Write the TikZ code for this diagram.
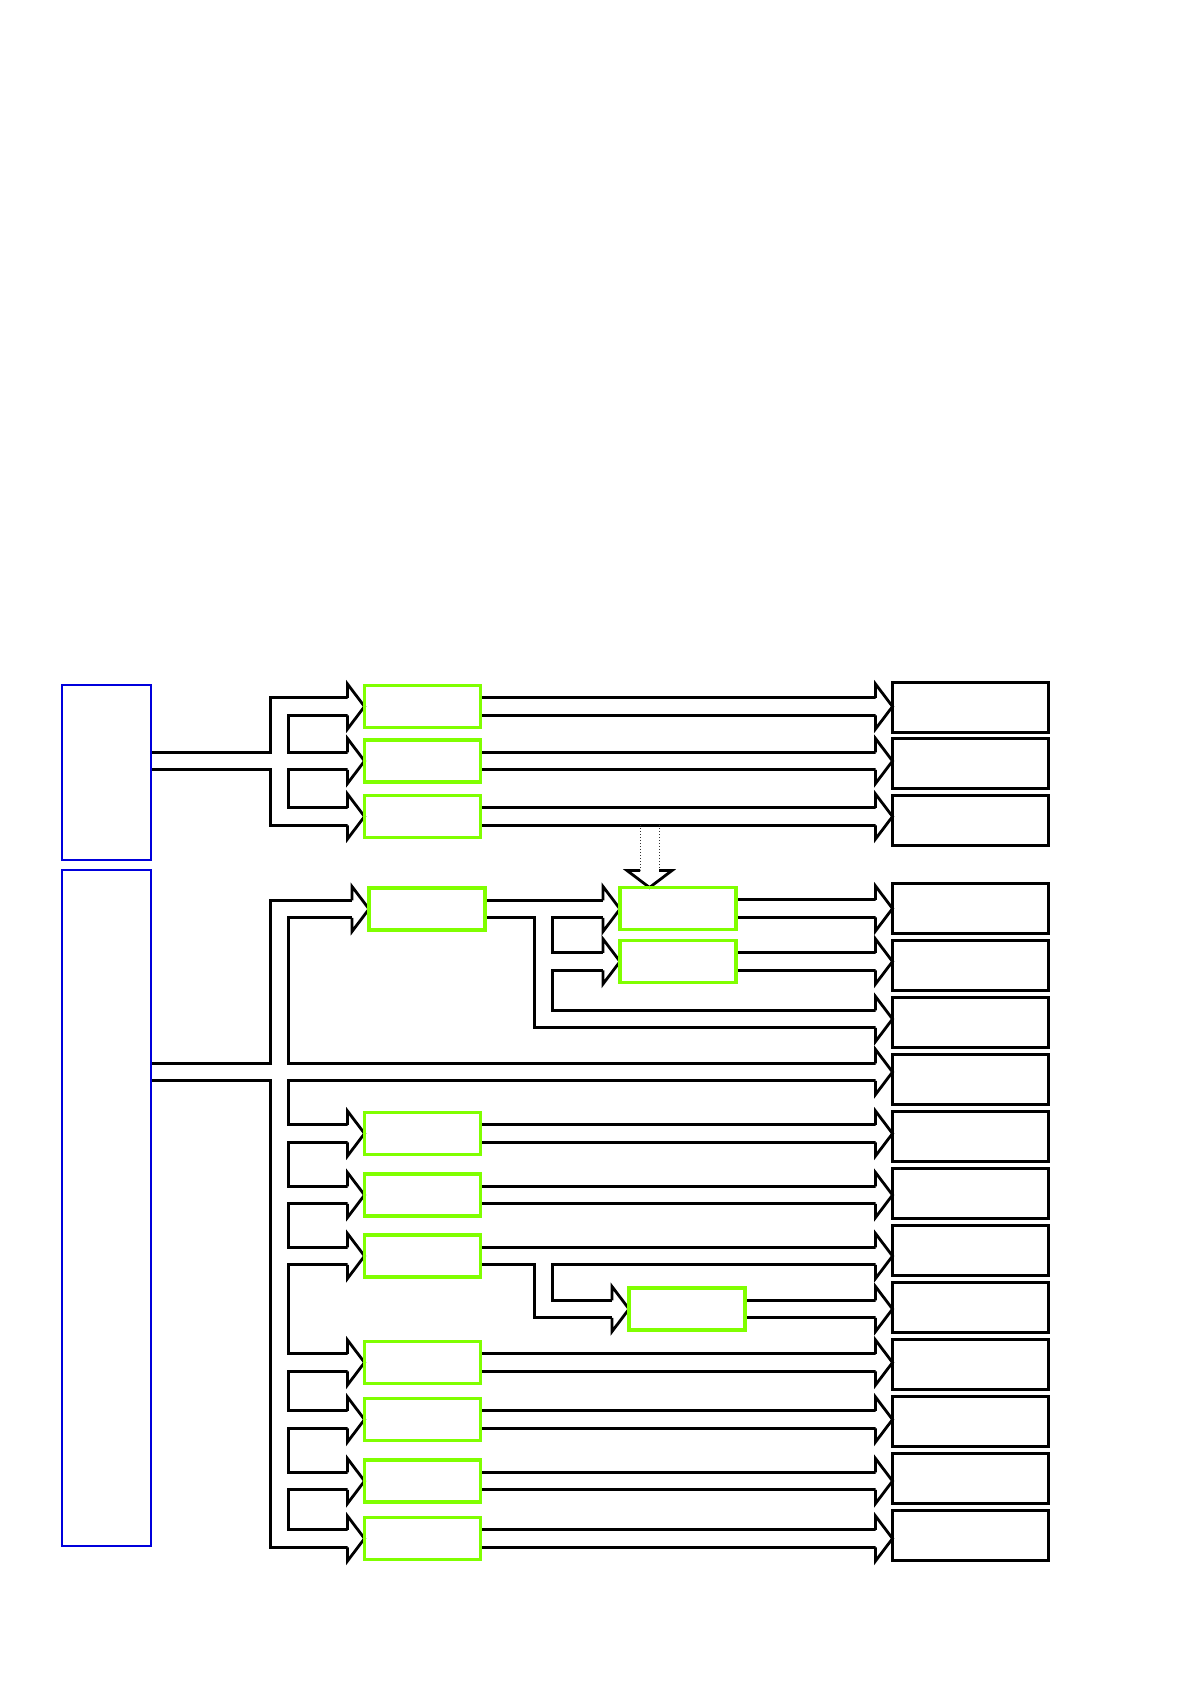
\documentclass[tikz,border=0pt]{standalone}
\usetikzlibrary{backgrounds,calc}
\definecolor{srcblue}{RGB}{0,0,220}
\definecolor{stepgreen}{RGB}{128,255,0}

% open arrow heads of the wide pipes (tip given)
\newcommand{\headR}[1]{\filldraw[bighead] (#1) ++(-17,-8.75) -- ++(0,-13.75) -- (#1) -- ++(-17,22.5) -- ++(0,-13.75);}
\newcommand{\headD}[1]{\filldraw[bighead] (#1) ++(-9.5,-17) -- ++(-13,0) -- (#1) -- ++(22.5,-17) -- ++(-13,0);}

% all wide pipes, drawn once black and once white
\newcommand{\pipenet}[1]{%
  \draw[#1] (b1.east |- busA) -- (busA -| g2.west);
  \draw[#1] (b1.east |- busA) -| (busA |- g1.west) -- (g1.west);
  \draw[#1] (b1.east |- busA) -| (busA |- g3.west) -- (g3.west);
  \draw[#1] (b2.east |- busB) -- (busB -| r7.west);
  \draw[#1] (b2.east |- busB) -| (busB |- g4.west) -- (g4.west);
  \draw[#1] (b2.east |- busB) -| (busB |- g11.west) -- (g11.west);
  \foreach \dst in {g5,g6,g7,g8,g9,g10}
    \draw[#1] (busB |- \dst.west) -- (\dst.west);
  \draw[#1] (g4.east) -| (busC) -- (busC -| r6.west);
  \draw[#1] (busC |- m2.west) -- (m2.west);
  \draw[#1] (g7.east) -| (busD) -- (m3.west);
  \foreach \src/\dst in {g1/r1,g2/r2,g3/r3,g4/m1,m1/r4,m2/r5,g5/r8,g6/r9,g7/r10,m3/r11,g8/r12,g9/r13,g10/r14,g11/r15}
    \draw[#1] (\src.east) -- (\src.east -| \dst.west);
}

\begin{document}
\begin{tikzpicture}[x=0.5pt, y=-0.5pt,
    srcbox/.style={draw=srcblue, line width=1.3pt, minimum width=44.5pt, inner sep=0pt, outer sep=0pt},
    stepbox/.style={draw=stepgreen, line width=1.6pt, minimum width=58pt, minimum height=21pt, inner sep=0pt, outer sep=0pt},
    outbox/.style={draw=black, line width=1.5pt, minimum width=78pt, minimum height=25pt, inner sep=0pt, outer sep=0pt},
    pipe black/.style={draw=black, line width=10.15pt, shorten >=8.5pt},
    pipe white/.style={draw=white, line width=7.35pt, shorten >=8.5pt},
    bighead/.style={fill=white, draw=black, line width=1.4pt},
    feed/.style={draw=black!80, line width=0.5pt, densely dotted}]
\useasboundingbox (0,0) rectangle (1190,1684);

% sources
\node[srcbox, minimum height=87.5pt] (b1) at (106.5,772.5) {};
\node[srcbox, minimum height=338pt] (b2) at (106.5,1208) {};

% steps
\foreach \n/\y in {g1/706.5,g2/761,g3/816.5,g5/1133.5,g6/1195,g7/1256,g8/1362.5,g9/1419.5,g10/1481,g11/1538.5}
  \node[stepbox] (\n) at (422.5,\y) {};
\node[stepbox] (g4) at (427,909) {};
\node[stepbox] (m1) at (678,908.5) {};
\node[stepbox] (m2) at (678,961.5) {};
\node[stepbox] (m3) at (687,1309) {};

% results
\foreach \n/\y in {r1/707,r2/763.5,r3/820.5}
  \node[outbox] (\n) at (970.5,\y) {};
\foreach \k in {4,...,15}
  \node[outbox] (r\k) at (970.5,{908.5+57*(\k-4)}) {};

\coordinate (busA) at (279.5,761);
\coordinate (busB) at (279.5,1072);
\coordinate (busC) at (543.5,1019);
\coordinate (busD) at (543.5,1309);
\coordinate (drop) at ([xshift=-14.25pt]m1.north);

\begin{scope}[on background layer]
  \pipenet{pipe black}
  \pipenet{pipe white}
  \draw[feed] ($(drop |- g3.east)+(-9.5,8.75)$) -- ($(drop)+(-9.5,-17)$);
  \draw[feed] ($(drop |- g3.east)+(9.5,8.75)$) -- ($(drop)+(9.5,-17)$);
  \foreach \p in {g1,g2,g3,g4,g5,g6,g7,g8,g9,g10,g11,m2,m3}
    \headR{\p.west};
  \headR{busB -| r7.west}
  \headR{busC -| r6.west}
  \foreach \src/\dst in {g1/r1,g2/r2,g3/r3,g4/m1,m1/r4,m2/r5,g5/r8,g6/r9,g7/r10,m3/r11,g8/r12,g9/r13,g10/r14,g11/r15}
    \headR{\src.east -| \dst.west};
  \headD{drop}
\end{scope}
\end{tikzpicture}
\end{document}
